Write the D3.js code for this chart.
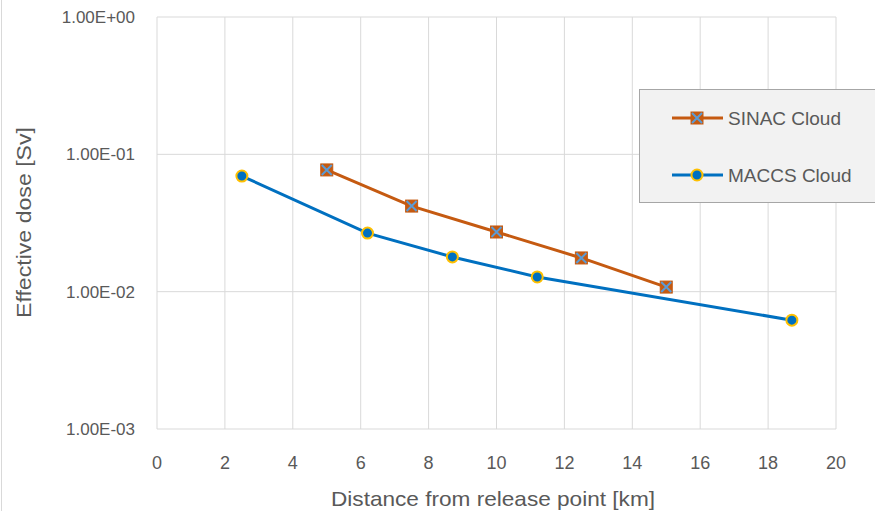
<!DOCTYPE html>
<html lang="en">
<head>
<meta charset="utf-8">
<title>Effective dose</title>
<script src="https://cdn.jsdelivr.net/npm/d3@7"></script>
<style>
  body { margin: 0; background: #fff; }
  text { font-family: "Liberation Sans", Arial, sans-serif; fill: #595959; }
</style>
</head>
<body>
<script>
var sinacX = [5, 7.5, 10, 12.5, 15];
var sinacY = [0.077, 0.042, 0.0272, 0.0176, 0.0108];
var maccsX = [2.5, 6.2, 8.7, 11.2, 18.7];
var maccsY = [0.0695, 0.0267, 0.0179, 0.0128, 0.0062];
var xTicks = [0, 2, 4, 6, 8, 10, 12, 14, 16, 18, 20];
var yTicks = [1, 0.1, 0.01, 0.001];
var yTickLabels = ["1.00E+00", "1.00E-01", "1.00E-02", "1.00E-03"];
var seriesNames = ["SINAC Cloud", "MACCS Cloud"];

var w = 875, h = 511;
var svg = d3.select("body").append("svg").attr("width", w).attr("height", h);

var x = d3.scaleLinear().domain([0, 20]).range([157, 836]);
var y = d3.scaleLog().domain([0.001, 1]).range([429, 17]);

// faint chart border on the left
svg.append("line").attr("x1", 1.5).attr("x2", 1.5).attr("y1", 0).attr("y2", h)
  .attr("stroke", "#d9d9d9");

// gridlines
svg.append("g").selectAll("line").data(xTicks).join("line")
  .attr("x1", d => x(d)).attr("x2", d => x(d))
  .attr("y1", y(1)).attr("y2", y(0.001))
  .attr("stroke", "#d9d9d9").attr("stroke-width", 1);
svg.append("g").selectAll("line").data(yTicks).join("line")
  .attr("x1", x(0)).attr("x2", x(20))
  .attr("y1", d => y(d)).attr("y2", d => y(d))
  .attr("stroke", "#d9d9d9").attr("stroke-width", 1);

// tick labels
svg.append("g").selectAll("text").data(yTicks).join("text")
  .attr("x", 135).attr("y", d => y(d) + 6)
  .attr("text-anchor", "end").attr("font-size", 17)
  .text((d, i) => yTickLabels[i]);
svg.append("g").selectAll("text").data(xTicks).join("text")
  .attr("x", d => x(d)).attr("y", 469)
  .attr("text-anchor", "middle").attr("font-size", 18)
  .text(d => d);

// axis titles
svg.append("text").attr("x", 493).attr("y", 506)
  .attr("text-anchor", "middle").attr("font-size", 21)
  .attr("textLength", 324).attr("lengthAdjust", "spacingAndGlyphs")
  .text("Distance from release point [km]");
svg.append("text").attr("transform", "translate(31,222.5) rotate(-90)")
  .attr("text-anchor", "middle").attr("font-size", 21)
  .attr("textLength", 191).attr("lengthAdjust", "spacingAndGlyphs")
  .text("Effective dose [Sv]");

var line = d3.line().x(d => x(d[0])).y(d => y(d[1]));
var sinac = d3.zip(sinacX, sinacY);
var maccs = d3.zip(maccsX, maccsY);

svg.append("path").datum(maccs).attr("d", line)
  .attr("fill", "none").attr("stroke", "#0070c0").attr("stroke-width", 3);
svg.append("path").datum(sinac).attr("d", line)
  .attr("fill", "none").attr("stroke", "#c55a11").attr("stroke-width", 3);

function square(g, cx, cy) {
  g.append("rect").attr("x", cx - 6).attr("y", cy - 6).attr("width", 12).attr("height", 12)
    .attr("fill", "#c55a11").attr("stroke", "#c55a11").attr("stroke-width", 1);
  g.append("path").attr("d", "M" + (cx - 5) + "," + (cy - 5) + "L" + (cx + 5) + "," + (cy + 5) +
      "M" + (cx + 5) + "," + (cy - 5) + "L" + (cx - 5) + "," + (cy + 5))
    .attr("stroke", "#5b9bd5").attr("stroke-width", 2);
}
function dot(g, cx, cy) {
  g.append("circle").attr("cx", cx).attr("cy", cy).attr("r", 5.5)
    .attr("fill", "#0070c0").attr("stroke", "#ffc000").attr("stroke-width", 2);
}

var marks = svg.append("g");
maccs.forEach(d => dot(marks, x(d[0]), y(d[1])));
sinac.forEach(d => square(marks, x(d[0]), y(d[1])));

// legend
var lg = svg.append("g");
lg.append("rect").attr("x", 639.5).attr("y", 89.5).attr("width", 245).attr("height", 113)
  .attr("fill", "#f2f2f2").attr("stroke", "#a6a6a6");
var legendY = [118, 175];
var legendColors = ["#c55a11", "#0070c0"];
seriesNames.forEach((name, i) => {
  lg.append("line").attr("x1", 672).attr("x2", 723).attr("y1", legendY[i]).attr("y2", legendY[i])
    .attr("stroke", legendColors[i]).attr("stroke-width", 3);
  if (i === 0) square(lg, 697, legendY[i]); else dot(lg, 697, legendY[i]);
  lg.append("text").attr("x", 728).attr("y", legendY[i] + 7).attr("font-size", 19).text(name);
});
</script>
</body>
</html>
